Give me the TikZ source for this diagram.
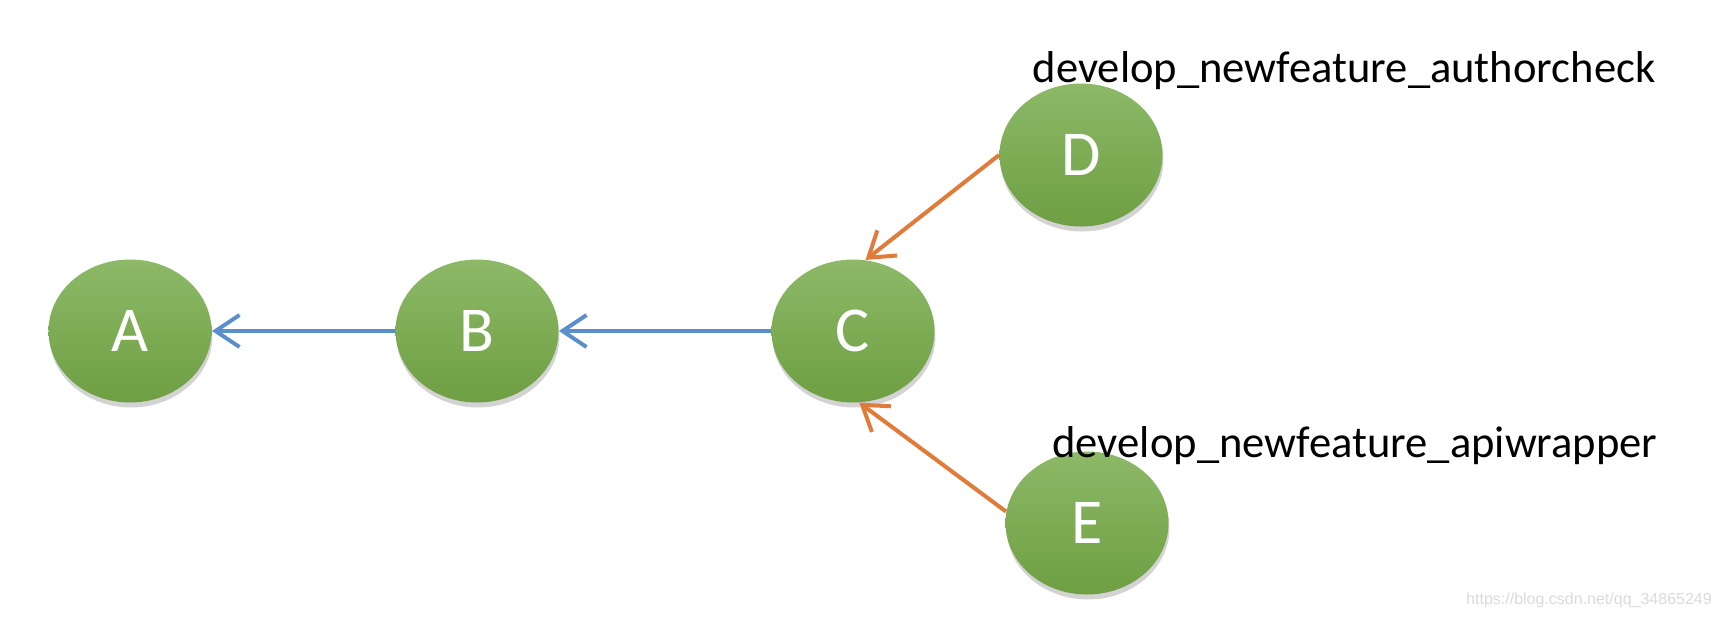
\documentclass[tikz,border=0pt]{standalone}
\usepackage{fontspec}
\setmainfont{Carlito}
\newfontfamily\markfont{Liberation Sans}
\usepackage{tikz}
\usetikzlibrary{shadows}
\usepackage{xcolor}
\usetikzlibrary{shapes.geometric}
\usetikzlibrary{arrows.meta,positioning,calc}
\definecolor{CommitTop}{HTML}{8DB968}
\definecolor{CommitBottom}{HTML}{6E9F42}
\definecolor{MainLine}{HTML}{5B8FCC}
\definecolor{FeatureLine}{HTML}{E07B39}
\definecolor{MarkGray}{HTML}{DADADA}
\tikzstyle{CommitNode} =[ellipse,minimum width=81.5pt,minimum height=71.5pt,inner sep=0pt,top color=CommitTop,bottom color=CommitBottom,text=white,font=\fontsize{32}{32}\selectfont,drop shadow={shadow xshift=0.5pt,shadow yshift=-2.5pt,opacity=0.35}]
\tikzstyle{BranchLabel} =[font=\fontsize{22.3}{22.3}\selectfont,text=black,inner sep=0pt]
\tikzstyle{MainArrow} =[-{Straight Barb[length=12pt,width=16pt]},draw=MainLine,line width=2pt]
\tikzstyle{FeatureArrow} =[-{Straight Barb[length=12pt,width=16pt]},draw=FeatureLine,line width=2pt]

\begin{document}
\begin{tikzpicture}[on grid,node distance=170pt]
\useasboundingbox (-65pt,-143.5pt) rectangle (795pt,165.5pt);
\node[CommitNode](CommitA){A};
\node[CommitNode,right=173.5pt of CommitA](CommitB){B};
\node[CommitNode,right=188pt of CommitB](CommitC){C};
\node[CommitNode,above right=88pt and 114pt of CommitC](CommitD){D};
\node[CommitNode,below right=96pt and 117pt of CommitC](CommitE){E};
\node[BranchLabel,above right=42pt and 131.5pt of CommitD](AuthorcheckLabel){develop\_newfeature\_authorcheck};
\node[BranchLabel,above right=38.5pt and 134pt of CommitE](ApiwrapperLabel){develop\_newfeature\_apiwrapper};
\node[font=\markfont\fontsize{8}{8}\selectfont,text=MarkGray,below right=134.5pt and 729.5pt of CommitA](Watermark){https://blog.csdn.net/qq\_34865249};
\draw[MainArrow] (CommitB) -- (CommitA);
\draw[MainArrow] (CommitC) -- (CommitB);
\draw[FeatureArrow] (CommitD.west) -- (CommitC.80);
\draw[FeatureArrow] (CommitE.172) -- (CommitC.-85);
\end{tikzpicture}
\end{document}
